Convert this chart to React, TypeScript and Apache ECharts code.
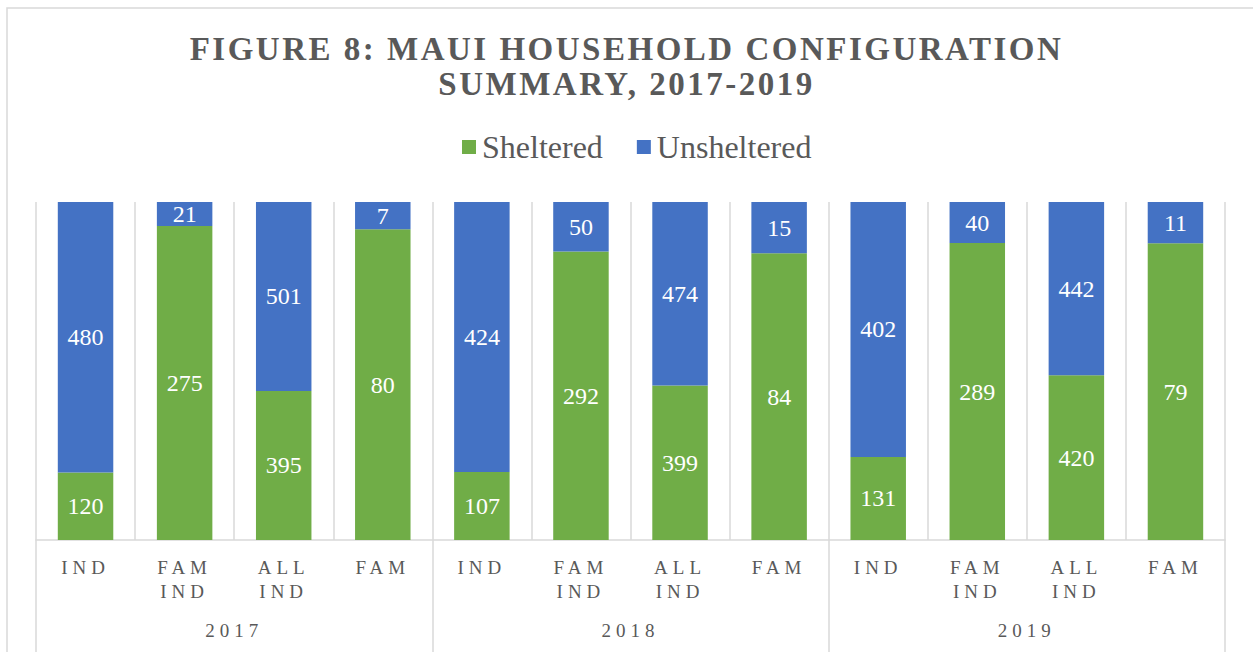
import React, { useEffect, useRef } from "react";
import * as echarts from "echarts";

const titleLine1 = "FIGURE 8: MAUI HOUSEHOLD CONFIGURATION";
const titleLine2 = "SUMMARY, 2017-2019";
const years = ["2017", "2018", "2019"];
const types = ["IND", "FAM\nIND", "ALL\nIND", "FAM"];
const seriesNames = ["Sheltered", "Unsheltered"];
const sheltered = [120, 275, 395, 80, 107, 292, 399, 84, 131, 289, 420, 79];
const unsheltered = [480, 21, 501, 7, 424, 50, 474, 15, 402, 40, 442, 11];

const FONT = "'Liberation Serif', 'Times New Roman', serif";
const GREY = "#595959";
const LINE = "#d9d9d9";

export default function App() {
  const ref = useRef<HTMLDivElement>(null);

  useEffect(() => {
    document.body.style.margin = "0";
    const el = ref.current!;
    const chart = echarts.init(el, null, { renderer: "svg" });

    const categories = years.flatMap(() => types);
    const totals = sheltered.map((s, i) => s + unsheltered[i]);
    const pctS = sheltered.map((s, i) => (s / totals[i]) * 100);
    const pctU = unsheltered.map((u, i) => (u / totals[i]) * 100);

    const labelCfg = (raw: number[]) => ({
      show: true,
      position: "inside",
      color: "#ffffff",
      fontFamily: FONT,
      fontSize: 24,
      formatter: (p: any) => String(raw[p.dataIndex]),
    });

    chart.setOption({
      animation: false,
      backgroundColor: "#ffffff",
      title: {
        text: titleLine1 + "\n" + titleLine2,
        left: "center",
        top: 31,
        padding: [0, 0, 0, 9],
        textStyle: {
          fontFamily: FONT,
          fontWeight: "bold",
          fontSize: 33,
          lineHeight: 35,
          color: GREY,
        },
      },
      legend: {
        data: seriesNames,
        left: 457,
        top: 126,
        itemWidth: 14,
        itemHeight: 14,
        itemGap: 34,
        icon: "rect",
        selectedMode: false,
        textStyle: {
          fontFamily: FONT,
          fontSize: 32,
          lineHeight: 30,
          color: GREY,
          padding: [0, 0, 0, 1],
        },
      },
      graphic: [
        {
          type: "rect",
          silent: true,
          shape: { x: 7, y: 8, width: 1400, height: 800 },
          style: { fill: "none", stroke: LINE, lineWidth: 1.5 },
        },
      ],
      grid: { left: 36, right: 28, top: 202, bottom: 112, containLabel: false },
      xAxis: [
        {
          type: "category",
          data: categories,
          position: "bottom",
          axisLine: { show: true, lineStyle: { color: LINE, width: 1.5 } },
          axisTick: { show: false },
          splitLine: { show: true, interval: 0, lineStyle: { color: LINE, width: 1.5 } },
          axisLabel: {
            interval: 0,
            margin: 15,
            fontFamily: FONT,
            fontSize: 19,
            lineHeight: 24,
            color: GREY,
          },
        },
        {
          type: "category",
          data: years,
          position: "bottom",
          offset: 0,
          axisLine: { show: false },
          axisTick: { show: true, interval: 0, length: 112, lineStyle: { color: LINE, width: 1.5 } },
          splitLine: { show: false },
          axisLabel: {
            interval: 0,
            margin: 81,
            fontFamily: FONT,
            fontSize: 19,
            color: GREY,
          },
        },
      ],
      yAxis: { type: "value", min: 0, max: 100, show: false, splitLine: { show: false } },
      series: [
        {
          name: seriesNames[0],
          type: "bar",
          stack: "total",
          xAxisIndex: 0,
          barWidth: "56%",
          data: pctS,
          itemStyle: { color: "#70AD47" },
          label: labelCfg(sheltered),
          silent: true,
          emphasis: { disabled: true },
        },
        {
          name: seriesNames[1],
          type: "bar",
          stack: "total",
          xAxisIndex: 0,
          barWidth: "56%",
          data: pctU,
          itemStyle: { color: "#4472C4" },
          label: labelCfg(unsheltered),
          silent: true,
          emphasis: { disabled: true },
        },
      ],
    });

    const wide = new Set<string>(["IND", "FAM", "ALL", ...years]);
    const applySpacing = () => {
      el.querySelectorAll("text").forEach((t) => {
        const s = (t.textContent || "").trim();
        let ls = 0;
        if (s === titleLine1 || s === titleLine2) ls = 2.5;
        else if (wide.has(s)) ls = 5;
        if (ls) (t as SVGTextElement).style.letterSpacing = ls + "px";
      });
    };
    applySpacing();
    chart.on("finished", applySpacing);
    const raf = requestAnimationFrame(applySpacing);

    return () => {
      cancelAnimationFrame(raf);
      chart.dispose();
    };
  }, []);

  return (
    <div
      ref={ref}
      style={{ position: "fixed", left: 0, top: 0, width: 1253, height: 652 }}
    />
  );
}
